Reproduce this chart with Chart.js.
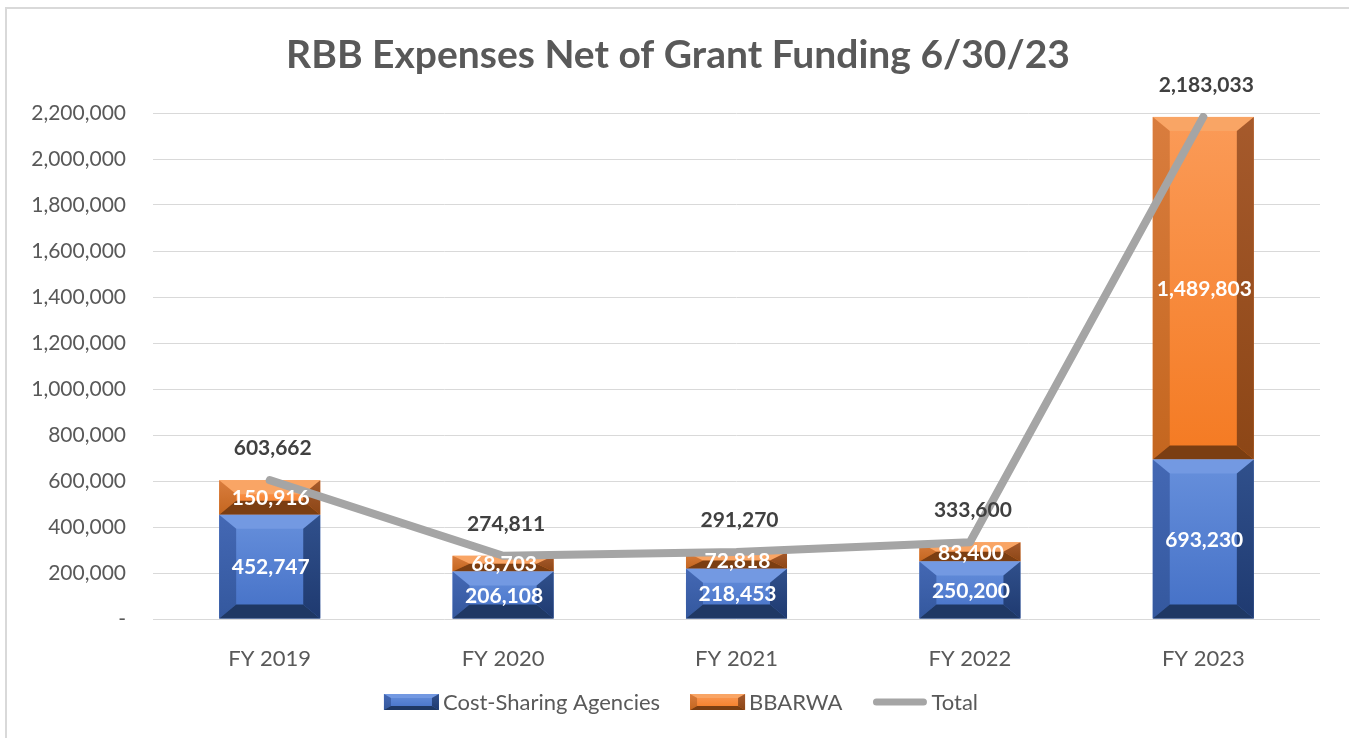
<!DOCTYPE html>
<html><head><meta charset="utf-8">
<script src="https://cdn.jsdelivr.net/npm/chart.js@4.4.0/dist/chart.umd.min.js"></script>
<style>html,body{margin:0;padding:0;background:#fff;overflow:hidden}#wrap{width:1349px;height:738px;position:relative}</style>
</head><body><div id="wrap"><canvas id="c" width="1349" height="738"></canvas></div>
<script>
const categories = ['FY 2019', 'FY 2020', 'FY 2021', 'FY 2022', 'FY 2023'];
const costSharing = [452747, 206108, 218453, 250200, 693230];
const bbarwa = [150916, 68703, 72818, 83400, 1489803];
const totals = [603662, 274811, 291270, 333600, 2183033];
const seriesNames = ['Cost-Sharing Agencies', 'BBARWA', 'Total'];
const titleText = 'RBB Expenses Net of Grant Funding 6/30/23';
const yMin = 0, yMax = 2200000, yStep = 200000;

const FONT = 'Lato';
const fmt = v => v.toLocaleString('en-US');

const PAL = {
  blue: { faceTop: '#6790dc', faceBot: '#4470c6', top: '#7399e2', leftTop: '#4468b4', leftBot: '#34589e',
          rightTop: '#30508c', rightBot: '#1f3a70', bottom: '#1f3864' },
  orange: { faceTop: '#fb9b58', faceBot: '#f47a22', top: '#f9a565', leftTop: '#d97d3e', leftBot: '#c4661f',
            rightTop: '#a65a2c', rightBot: '#8c4616', bottom: '#7b3e12' }
};

function poly(ctx, pts, fill) {
  ctx.beginPath();
  ctx.moveTo(pts[0][0], pts[0][1]);
  for (let i = 1; i < pts.length; i++) ctx.lineTo(pts[i][0], pts[i][1]);
  ctx.closePath();
  ctx.fillStyle = fill;
  ctx.fill();
}

function bevel(ctx, x0, y0, x1, y1, pal, bwMax, bhMax) {
  const w = x1 - x0, h = y1 - y0;
  if (h <= 0 || w <= 0) return;
  const bh = Math.min(bhMax, h / 2);
  const b = Math.min(bwMax, w / 2);
  const g = ctx.createLinearGradient(0, y0, 0, y1);
  g.addColorStop(0, pal.faceTop); g.addColorStop(1, pal.faceBot);
  ctx.fillStyle = g;
  ctx.fillRect(x0, y0, w, h);
  poly(ctx, [[x0, y0], [x1, y0], [x1 - b, y0 + bh], [x0 + b, y0 + bh]], pal.top);
  const gl = ctx.createLinearGradient(0, y0, 0, y1);
  gl.addColorStop(0, pal.leftTop); gl.addColorStop(1, pal.leftBot);
  poly(ctx, [[x0, y0], [x0 + b, y0 + bh], [x0 + b, y1 - bh], [x0, y1]], gl);
  const gr = ctx.createLinearGradient(0, y0, 0, y1);
  gr.addColorStop(0, pal.rightTop); gr.addColorStop(1, pal.rightBot);
  poly(ctx, [[x1, y0], [x1, y1], [x1 - b, y1 - bh], [x1 - b, y0 + bh]], gr);
  poly(ctx, [[x0, y1], [x0 + b, y1 - bh], [x1 - b, y1 - bh], [x1, y1]], pal.bottom);
}

const bevelPlugin = {
  id: 'bevelBars',
  afterDatasetDraw(chart, args) {
    const ds = chart.data.datasets[args.index];
    if (!ds.palette) return;
    const ctx = chart.ctx;
    ctx.save();
    args.meta.data.forEach(el => {
      const p = el.getProps(['x', 'y', 'base', 'width'], true);
      const top = Math.min(p.y, p.base), bot = Math.max(p.y, p.base);
      bevel(ctx, p.x - p.width / 2, top, p.x + p.width / 2, bot, PAL[ds.palette], 17, 14);
    });
    ctx.restore();
  }
};

const labelPlugin = {
  id: 'labels',
  beforeDraw(chart) {
    const ctx = chart.ctx;
    ctx.save();
    ctx.fillStyle = '#d9d9d9';
    ctx.fillRect(5, 7, 2, chart.height - 7);
    ctx.fillRect(5, 7, chart.width - 5, 2);
    ctx.restore();
  },
  afterDatasetsDraw(chart) {
    const ctx = chart.ctx;
    ctx.save();
    ctx.textAlign = 'center';
    ctx.textBaseline = 'middle';
    chart.data.datasets.forEach((ds, i) => {
      const meta = chart.getDatasetMeta(i);
      meta.data.forEach((el, j) => {
        const v = ds.data[j];
        if (ds.palette) {
          const p = el.getProps(['x', 'y', 'base'], true);
          ctx.font = 'bold 21px ' + FONT;
          ctx.fillStyle = '#ffffff';
          ctx.fillText(fmt(v), p.x + 1, (p.y + p.base) / 2 + 1);
        } else {
          const p = el.getProps(['x', 'y'], true);
          ctx.font = 'bold 21px ' + FONT;
          ctx.fillStyle = '#404040';
          ctx.fillText(fmt(v), p.x + 3, p.y - 32);
        }
      });
    });
    // title
    ctx.font = 'bold 39px ' + FONT;
    ctx.fillStyle = '#595959';
    ctx.fillText(titleText, 678, 55);
    // legend
    ctx.font = '22px ' + FONT;
    ctx.textAlign = 'left';
    const ly = 702;
    const items = [
      { type: 'bar', pal: PAL.blue, name: seriesNames[0] },
      { type: 'bar', pal: PAL.orange, name: seriesNames[1] },
      { type: 'line', name: seriesNames[2] }
    ];
    const iconW = 55, gapT = 4, gapItem = 30;
    let total = 0;
    items.forEach((it, k) => { total += iconW + gapT + ctx.measureText(it.name).width + (k < items.length - 1 ? gapItem : 0); });
    let x = 681 - total / 2;
    items.forEach(it => {
      if (it.type === 'bar') {
        bevel(ctx, x, ly - 8, x + iconW, ly + 8, it.pal, 7, 4);
      } else {
        ctx.strokeStyle = '#a5a5a5';
        ctx.lineWidth = 7;
        ctx.lineCap = 'round';
        ctx.beginPath(); ctx.moveTo(x + 4, ly); ctx.lineTo(x + iconW - 4, ly); ctx.stroke();
      }
      x += iconW + gapT;
      ctx.fillStyle = '#595959';
      ctx.fillText(it.name, x, ly + 1);
      x += ctx.measureText(it.name).width + gapItem;
    });
    ctx.restore();
  }
};

new Chart(document.getElementById('c'), {
  data: {
    labels: categories,
    datasets: [
      { type: 'line', label: seriesNames[2], data: totals, borderColor: '#a5a5a5', borderWidth: 8,
        pointRadius: 0, pointHoverRadius: 0, tension: 0, borderJoinStyle: 'round', borderCapStyle: 'round',
        stack: 'total', order: 0 },
      { type: 'bar', label: seriesNames[0], data: costSharing, backgroundColor: 'rgba(0,0,0,0)', palette: 'blue',
        stack: 'bars', order: 1, barPercentage: 0.433, categoryPercentage: 1 },
      { type: 'bar', label: seriesNames[1], data: bbarwa, backgroundColor: 'rgba(0,0,0,0)', palette: 'orange',
        stack: 'bars', order: 1, barPercentage: 0.433, categoryPercentage: 1 }
    ]
  },
  options: {
    responsive: false,
    animation: false,
    devicePixelRatio: 1,
    layout: { padding: { top: 113, right: 29, bottom: 59, left: 0 } },
    plugins: { legend: { display: false }, title: { display: false }, tooltip: { enabled: false } },
    scales: {
      x: {
        stacked: true,
        grid: { display: false },
        border: { display: false },
        ticks: { color: '#595959', font: { family: FONT, size: 22 }, padding: 19 },
        afterFit(s) { s.height = 60; }
      },
      y: {
        stacked: true,
        min: yMin, max: yMax,
        grid: { color: '#d9d9d9', drawTicks: false, lineWidth: 1 },
        border: { display: false },
        ticks: { stepSize: yStep, color: '#595959', font: { family: FONT, size: 21 }, padding: 27,
                 callback: v => v === 0 ? '-' : fmt(v) },
        afterFit(s) { s.width = 153; }
      }
    }
  },
  plugins: [bevelPlugin, labelPlugin]
});
</script></body></html>
